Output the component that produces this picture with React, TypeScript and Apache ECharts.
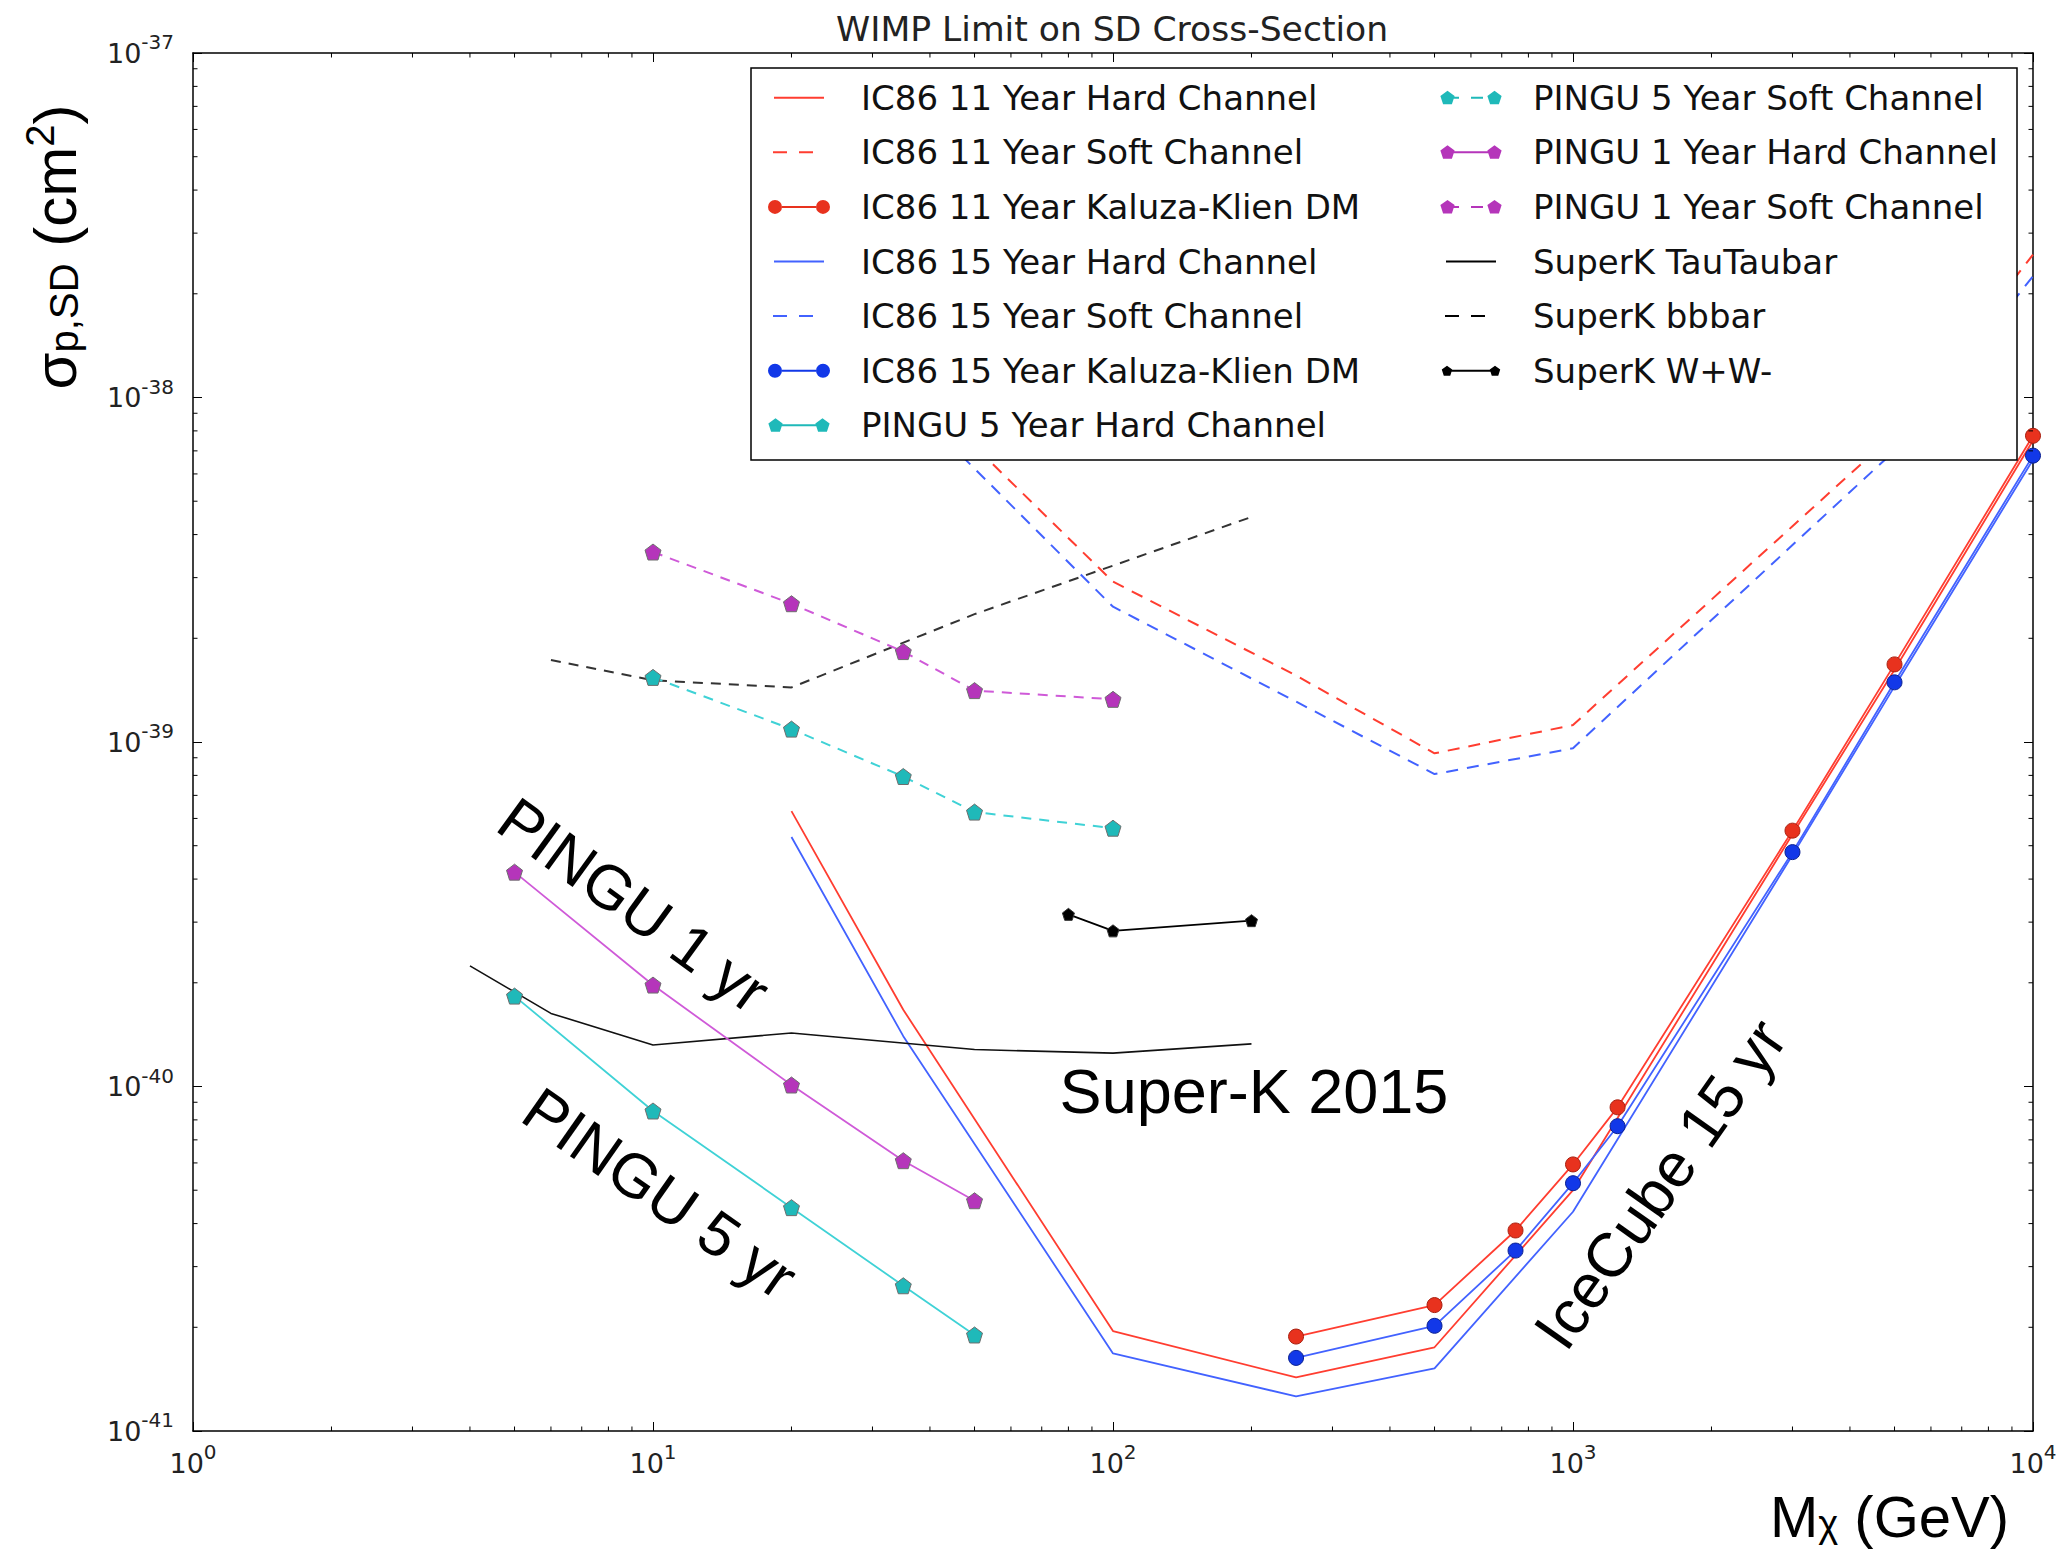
import React, { useEffect, useRef, useState } from "react";
import * as echarts from "echarts";

// ---------------- data ----------------
// cross-sections in cm^2
const IC_HARD_M = [20, 35, 100, 250, 500, 1000, 3000, 5000, 10000];
const IC11_HARD = [6.3e-40, 1.67e-40, 1.95e-41, 1.43e-41, 1.75e-41, 5.0e-41, 5.4e-40, 1.62e-39, 7.5e-39];
const IC15_HARD = [5.3e-40, 1.4e-40, 1.68e-41, 1.26e-41, 1.52e-41, 4.33e-41, 4.7e-40, 1.45e-39, 6.6e-39];

const IC_SOFT_M = [20, 35, 100, 250, 500, 1000, 3000, 5000, 10000];
const IC11_SOFT = [3.2e-38, 1.15e-38, 2.92e-39, 1.56e-39, 9.27e-40, 1.12e-39, 4.23e-39, 7.85e-39, 2.6e-38];
const IC15_SOFT = [2.8e-38, 1.0e-38, 2.47e-39, 1.31e-39, 8.07e-40, 9.59e-40, 3.73e-39, 7.0e-39, 2.25e-38];

const IC_KK_M = [250, 500, 750, 1000, 1250, 3000, 5000, 10000];
const IC11_KK = [1.88e-41, 2.32e-41, 3.82e-41, 5.94e-41, 8.7e-41, 5.53e-40, 1.68e-39, 7.74e-39];
const IC15_KK = [1.63e-41, 2.02e-41, 3.34e-41, 5.24e-41, 7.67e-41, 4.79e-40, 1.49e-39, 6.78e-39];

const PINGU_HARD_M = [5, 10, 20, 35, 50];
const P5_HARD = [1.83e-40, 8.49e-41, 4.45e-41, 2.64e-41, 1.9e-41];
const P1_HARD = [4.19e-40, 1.97e-40, 1.01e-40, 6.09e-41, 4.66e-41];

const PINGU_SOFT_M = [10, 20, 35, 50, 100];
const P5_SOFT = [1.54e-39, 1.09e-39, 7.94e-40, 6.26e-40, 5.62e-40];
const P1_SOFT = [3.56e-39, 2.52e-39, 1.83e-39, 1.41e-39, 1.33e-39];

const SK_TAU_M = [4, 6, 10, 20, 50, 100, 200];
const SK_TAU = [2.24e-40, 1.63e-40, 1.32e-40, 1.43e-40, 1.28e-40, 1.25e-40, 1.33e-40];
const SK_BB_M = [6, 10, 20, 50, 100, 200];
const SK_BB = [1.73e-39, 1.51e-39, 1.44e-39, 2.35e-39, 3.25e-39, 4.5e-39];
const SK_WW_M = [80, 100, 200];
const SK_WW = [3.16e-40, 2.83e-40, 3.03e-40];

// axis ranges
const X_MIN = 1, X_MAX = 10000;
const Y_MIN = 1e-41, Y_MAX = 1e-37;
// the y axis works in units of 1e-41 cm^2 (ECharts rounds tiny log ticks to 0)
const Y_UNIT_EXP = -41;
const Y_UNIT = 1e-41;
const MINOR_MULT = [2, 3, 4, 5, 6, 7, 8, 9];
const X_DECADES = [1, 10, 100, 1000];
const Y_DECADES = [1e-41, 1e-40, 1e-39, 1e-38];

const NAMES = [
  "IC86 11 Year Hard Channel",
  "IC86 11 Year Soft Channel",
  "IC86 11 Year Kaluza-Klien DM",
  "IC86 15 Year Hard Channel",
  "IC86 15 Year Soft Channel",
  "IC86 15 Year Kaluza-Klien DM",
  "PINGU 5 Year Hard Channel",
  "PINGU 5 Year Soft Channel",
  "PINGU 1 Year Hard Channel",
  "PINGU 1 Year Soft Channel",
  "SuperK TauTaubar",
  "SuperK bbbar",
  "SuperK W+W-",
];

// ---------------- styles ----------------
const RED_LINE = "#ff3d30";
const RED_MK = "#e8321e";
const BLUE_LINE = "#4262ff";
const BLUE_MK = "#1238e8";
const CYAN_LINE = "#3fd2d6";
const CYAN_MK = "#1fb9b9";
const MAG_LINE = "#cf5ad8";
const MAG_MK = "#b535ba";
const DV = "'DejaVu Sans', sans-serif";
const HV = "'Liberation Sans', Arial, sans-serif";

const yv = (v: number) => v / Y_UNIT;
const zip = (xs: number[], ys: number[]) => xs.map((x, i) => [x, yv(ys[i])]);

const PENT = "path://M0,-10 L9.511,-3.09 L5.878,8.09 L-5.878,8.09 L-9.511,-3.09 Z";

// legend icon helpers (62 x 16 box)
const f = (n: number) => n.toFixed(2);
const pent = (cx: number, cy: number, r: number) => {
  const p = [[0, -1], [0.951, -0.309], [0.588, 0.809], [-0.588, 0.809], [-0.951, -0.309]].map(
    ([a, b]) => `${f(cx + a * r)} ${f(cy + b * r)}`
  );
  return `M${p[0]} L${p[1]} L${p[2]} L${p[3]} L${p[4]} Z `;
};
const bar = (x1: number, x2: number, y = 8, t = 2) =>
  `M${x1} ${y - t / 2} L${x2} ${y - t / 2} L${x2} ${y + t / 2} L${x1} ${y + t / 2} Z `;
const circ = (cx: number, cy: number, r: number) =>
  `M${cx - r} ${cy} A${r} ${r} 0 1 1 ${cx + r} ${cy} A${r} ${r} 0 1 1 ${cx - r} ${cy} Z `;
const BOXP = "M0 0 M62 16 ";
const ICON_SOLID = "path://" + BOXP + bar(6, 56);
const ICON_DASH = "path://" + BOXP + bar(5, 19) + bar(31, 45);
const ICON_KK = "path://" + BOXP + circ(7, 8, 7) + bar(14, 48) + circ(55, 8, 7);
const ICON_P_SOLID = "path://" + BOXP + pent(7.5, 8.5, 7.5) + bar(8, 54) + pent(54.5, 8.5, 7.5);
const ICON_P_DASH = "path://" + BOXP + pent(7.5, 8.5, 7.5) + bar(8, 19) + bar(31, 43) + pent(54.5, 8.5, 7.5);
const ICON_WW = "path://" + BOXP + pent(7, 8.5, 5.5) + bar(7, 55) + pent(55, 8.5, 5.5);

const ICONS: [string, string][] = [
  [ICON_SOLID, RED_LINE],
  [ICON_DASH, RED_LINE],
  [ICON_KK, RED_MK],
  [ICON_SOLID, BLUE_LINE],
  [ICON_DASH, BLUE_LINE],
  [ICON_KK, BLUE_MK],
  [ICON_P_SOLID, CYAN_MK],
  [ICON_P_DASH, CYAN_MK],
  [ICON_P_SOLID, MAG_MK],
  [ICON_P_DASH, MAG_MK],
  [ICON_SOLID, "#000"],
  [ICON_DASH, "#000"],
  [ICON_WW, "#000"],
];

const legendItem = (i: number) => ({
  name: NAMES[i],
  icon: ICONS[i][0],
  itemStyle: { color: ICONS[i][1], borderWidth: 0 },
});

const xTickFmt = (v: number) => `{b|10}{s|${Math.round(Math.log10(v))}}`;
const yTickFmt = (v: number) => `{b|10}{s|${Math.round(Math.log10(v)) + Y_UNIT_EXP}}`;
const tickRich = {
  b: { fontFamily: DV, fontSize: 27, color: "#222" },
  s: { fontFamily: DV, fontSize: 20, color: "#222", padding: [0, 0, 22, 0] },
};

const axisCommon = {
  type: "log" as const,
  logBase: 10,
  axisLine: { show: true, onZero: false, lineStyle: { color: "#000", width: 1.5 } },
  axisTick: { show: true, inside: true, length: 9, lineStyle: { color: "#000", width: 1 } },
  splitLine: { show: false },
};

function lineSeries(name: string, data: number[][], opts: any) {
  return {
    name,
    type: "line",
    data,
    xAxisIndex: 0,
    yAxisIndex: 0,
    silent: true,
    showAllSymbol: true,
    symbol: "none",
    z: 2,
    ...opts,
  };
}

const legendText = { fontFamily: DV, fontSize: 34, color: "#111", lineHeight: 34, padding: [0, 0, 0, 26] };

export default function App() {
  const ref = useRef<HTMLDivElement>(null);
  const [err, setErr] = useState<string>("");
  useEffect(() => {
    if (!ref.current) return;
    const chart = echarts.init(ref.current, null, { renderer: "svg" });

    const minorData: number[][] = [
      ...X_DECADES.flatMap((d) => MINOR_MULT.map((m) => [m * d, 100, 0])),
      ...Y_DECADES.flatMap((d) => MINOR_MULT.map((m) => [10, yv(m * d), 1])),
    ];

    const pentStyle = (c: string) => ({ color: c, borderColor: "#6e6e6e", borderWidth: 1 });

    const option: any = {
      animation: false,
      backgroundColor: "#fff",
      textStyle: { fontFamily: DV },
      title: {
        text: "WIMP Limit on SD Cross-Section",
        left: 836,
        top: 11,
        padding: 0,
        textStyle: { fontFamily: DV, fontSize: 34.6, fontWeight: "normal", color: "#222" },
      },
      grid: { left: 193, top: 53, width: 1840, height: 1378, containLabel: false },
      xAxis: [
        {
          ...axisCommon,
          position: "bottom",
          min: X_MIN,
          max: X_MAX,
          axisLabel: { show: true, margin: 11, formatter: xTickFmt, rich: tickRich, showMinLabel: true, showMaxLabel: true },
        },
        {
          ...axisCommon,
          position: "top",
          min: X_MIN,
          max: X_MAX,
          axisLabel: { show: false },
        },
      ],
      yAxis: [
        {
          ...axisCommon,
          position: "left",
          min: yv(Y_MIN),
          max: yv(Y_MAX),
          axisLabel: { show: true, margin: 19, formatter: yTickFmt, rich: tickRich, showMinLabel: true, showMaxLabel: true },
        },
        {
          ...axisCommon,
          position: "right",
          min: yv(Y_MIN),
          max: yv(Y_MAX),
          axisLabel: { show: false },
        },
      ],
      legend: [
        {
          data: [0, 1, 2, 3, 4, 5, 6].map(legendItem),
          orient: "vertical",
          left: 768,
          top: 80.7,
          padding: 0,
          itemGap: 20.6,
          itemWidth: 62,
          itemHeight: 16,
          selectedMode: false,
          z: 10,
          textStyle: legendText,
        },
        {
          data: [7, 8, 9, 10, 11, 12].map(legendItem),
          orient: "vertical",
          left: 1440,
          top: 80.7,
          padding: 0,
          itemGap: 20.6,
          itemWidth: 62,
          itemHeight: 16,
          selectedMode: false,
          z: 10,
          textStyle: legendText,
        },
      ],
      graphic: {
        elements: [
          {
            type: "rect",
            z: 5,
            shape: { x: 751, y: 68, width: 1266, height: 392 },
            style: { fill: "#fff", stroke: "#000", lineWidth: 1.5 },
          },
          {
            type: "text",
            z: 6,
            x: 634,
            y: 905,
            rotation: (-36 * Math.PI) / 180,
            style: { text: "PINGU 1 yr", fontFamily: HV, fontSize: 62, fill: "#000", align: "center", verticalAlign: "middle" },
          },
          {
            type: "text",
            z: 6,
            x: 660,
            y: 1193,
            rotation: (-35 * Math.PI) / 180,
            style: { text: "PINGU 5 yr", fontFamily: HV, fontSize: 62, fill: "#000", align: "center", verticalAlign: "middle" },
          },
          {
            type: "text",
            z: 6,
            x: 1254,
            y: 1091,
            style: { text: "Super-K 2015", fontFamily: HV, fontSize: 63, fill: "#000", align: "center", verticalAlign: "middle" },
          },
          {
            type: "text",
            z: 6,
            x: 1660,
            y: 1184,
            rotation: (54.7 * Math.PI) / 180,
            style: { text: "IceCube 15 yr", fontFamily: HV, fontSize: 62, fill: "#000", align: "center", verticalAlign: "middle" },
          },
          {
            type: "text",
            z: 6,
            x: 55,
            y: 247,
            rotation: Math.PI / 2,
            style: {
              text: "{a|σ}{sub|p,SD}{a| (cm}{sup|2}{a|)}",
              fontFamily: HV,
              fontSize: 60,
              fill: "#000",
              align: "center",
              verticalAlign: "middle",
              rich: {
                a: { fontFamily: HV, fontSize: 60, fill: "#000" },
                sub: { fontFamily: HV, fontSize: 40, fill: "#000", padding: [18, 0, 0, 0] },
                sup: { fontFamily: HV, fontSize: 40, fill: "#000", padding: [0, 0, 30, 0] },
              },
            },
          },
          {
            type: "text",
            z: 6,
            x: 1770,
            y: 1516,
            style: {
              text: "{a|M}{sub|χ}{a| (GeV)}",
              fontFamily: HV,
              fontSize: 58,
              fill: "#000",
              align: "left",
              verticalAlign: "middle",
              rich: {
                a: { fontFamily: HV, fontSize: 58, fill: "#000" },
                sub: { fontFamily: HV, fontSize: 38, fill: "#000", padding: [16, 0, 0, 0] },
              },
            },
          },
        ],
      },
      series: [
        lineSeries(NAMES[0], zip(IC_HARD_M, IC11_HARD), { lineStyle: { color: RED_LINE, width: 1.8 }, itemStyle: { color: RED_LINE } }),
        lineSeries(NAMES[1], zip(IC_SOFT_M, IC11_SOFT), { lineStyle: { color: RED_LINE, width: 2, type: [12, 9] }, itemStyle: { color: RED_LINE } }),
        lineSeries(NAMES[2], zip(IC_KK_M, IC11_KK), {
          symbol: "circle",
          symbolSize: 15,
          lineStyle: { color: RED_LINE, width: 1.8 },
          itemStyle: { color: RED_MK, borderColor: "#a82010", borderWidth: 1 },
          z: 3,
        }),
        lineSeries(NAMES[3], zip(IC_HARD_M, IC15_HARD), { lineStyle: { color: BLUE_LINE, width: 1.8 }, itemStyle: { color: BLUE_LINE } }),
        lineSeries(NAMES[4], zip(IC_SOFT_M, IC15_SOFT), { lineStyle: { color: BLUE_LINE, width: 2, type: [12, 9] }, itemStyle: { color: BLUE_LINE } }),
        lineSeries(NAMES[5], zip(IC_KK_M, IC15_KK), {
          symbol: "circle",
          symbolSize: 15,
          lineStyle: { color: BLUE_LINE, width: 1.8 },
          itemStyle: { color: BLUE_MK, borderColor: "#0a2090", borderWidth: 1 },
          z: 3,
        }),
        lineSeries(NAMES[6], zip(PINGU_HARD_M, P5_HARD), {
          symbol: PENT,
          symbolSize: 16,
          lineStyle: { color: CYAN_LINE, width: 1.8 },
          itemStyle: pentStyle(CYAN_MK),
          z: 3,
        }),
        lineSeries(NAMES[7], zip(PINGU_SOFT_M, P5_SOFT), {
          symbol: PENT,
          symbolSize: 16,
          lineStyle: { color: CYAN_LINE, width: 2, type: [10, 8] },
          itemStyle: pentStyle(CYAN_MK),
          z: 3,
        }),
        lineSeries(NAMES[8], zip(PINGU_HARD_M, P1_HARD), {
          symbol: PENT,
          symbolSize: 16,
          lineStyle: { color: MAG_LINE, width: 1.8 },
          itemStyle: pentStyle(MAG_MK),
          z: 3,
        }),
        lineSeries(NAMES[9], zip(PINGU_SOFT_M, P1_SOFT), {
          symbol: PENT,
          symbolSize: 16,
          lineStyle: { color: MAG_LINE, width: 2, type: [10, 8] },
          itemStyle: pentStyle(MAG_MK),
          z: 3,
        }),
        lineSeries(NAMES[10], zip(SK_TAU_M, SK_TAU), { lineStyle: { color: "#111", width: 1.6 }, itemStyle: { color: "#000" } }),
        lineSeries(NAMES[11], zip(SK_BB_M, SK_BB), { lineStyle: { color: "#333", width: 2, type: [10, 8] }, itemStyle: { color: "#000" } }),
        lineSeries(NAMES[12], zip(SK_WW_M, SK_WW), {
          symbol: PENT,
          symbolSize: 12,
          lineStyle: { color: "#000", width: 1.8 },
          itemStyle: { color: "#000", borderColor: "#333", borderWidth: 1 },
          z: 3,
        }),
        {
          type: "custom",
          name: "minor-ticks",
          xAxisIndex: 0,
          yAxisIndex: 0,
          silent: true,
          z: 4,
          data: minorData,
          renderItem: (params: any, api: any) => {
            const cs = params.coordSys;
            const kind = api.value(2);
            const p = api.coord([api.value(0), api.value(1)]);
            const st = { stroke: "#000", lineWidth: 1 };
            if (kind === 0) {
              return {
                type: "group",
                children: [
                  { type: "line", shape: { x1: p[0], y1: cs.y + cs.height, x2: p[0], y2: cs.y + cs.height - 4.5 }, style: st },
                  { type: "line", shape: { x1: p[0], y1: cs.y, x2: p[0], y2: cs.y + 4.5 }, style: st },
                ],
              };
            }
            return {
              type: "group",
              children: [
                { type: "line", shape: { x1: cs.x, y1: p[1], x2: cs.x + 4.5, y2: p[1] }, style: st },
                { type: "line", shape: { x1: cs.x + cs.width, y1: p[1], x2: cs.x + cs.width - 4.5, y2: p[1] }, style: st },
              ],
            };
          },
        },
      ],
    };

    try {
      chart.setOption(option);
    } catch (e: any) {
      setErr(String(e && e.stack ? e.stack : e));
    }
    return () => chart.dispose();
  }, []);

  return (
    <>
      <div
        ref={ref}
        style={{ position: "absolute", left: 0, top: 0, width: 2070, height: 1549, background: "#fff" }}
      />
      {err ? (
        <pre style={{ position: "absolute", left: 300, top: 600, fontSize: 14, color: "red", zIndex: 10 }}>{err}</pre>
      ) : null}
    </>
  );
}
